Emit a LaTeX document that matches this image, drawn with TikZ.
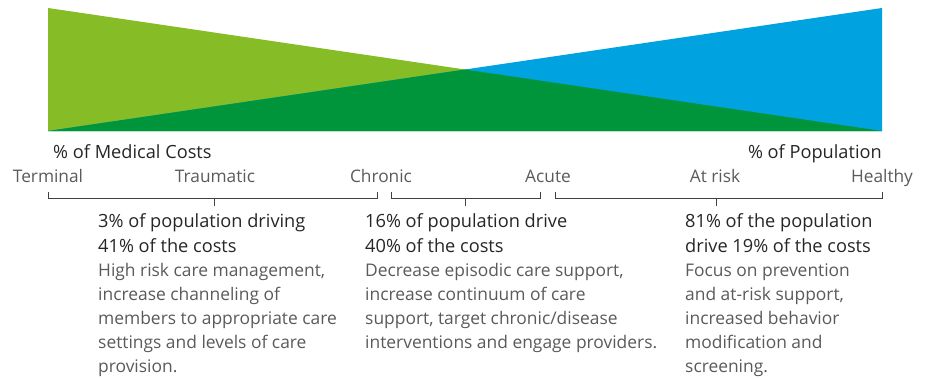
\documentclass[tikz,border=0pt]{standalone}
\usepackage{fontspec}
\setmainfont{Open Sans}
\usetikzlibrary{positioning}
\definecolor{light green}{HTML}{86BC25}
\definecolor{pop blue}{HTML}{00A3E0}
\definecolor{dark green}{HTML}{00953A}
\definecolor{head gray}{HTML}{262626}
\definecolor{text gray}{HTML}{5A5A5A}
\colorlet{bracket gray}{black!75}

\begin{document}
\begin{tikzpicture}[x=1pt,y=-1pt,
		every node/.style={inner sep=0pt,font=\fontsize{17.4}{24.2}\selectfont},
		head/.style={anchor=base west,align=left,text=head gray,font=\fontsize{18.2}{24.2}\selectfont},
		desc/.style={anchor=base west,align=left,text=text gray},
		stage/.style={anchor=base,text=text gray,font=\fontsize{17.3}{24.2}\selectfont},
		bracket/.style={draw=bracket gray,line width=0.9pt}]
			\useasboundingbox (0,0) rectangle (930,378);
			\coordinate (top left) at (48,8);
			\coordinate (top right) at (882,8);
			\coordinate (bottom left) at (48,131);
			\coordinate (bottom right) at (882,131);
			\coordinate (cross) at (465,69.5);
			\fill[light green] (top left) -- (bottom right) -- (bottom left) -- cycle;
			\fill[pop blue] (top right) -- (bottom right) -- (bottom left) -- cycle;
			\fill[dark green] (bottom left) -- (bottom right) -- (cross) -- cycle;
			\node[head,anchor=base west] (costs) at (53,158){\% of Medical Costs};
			\node[head,anchor=base east] (population) at (882,158){\% of Population};
			\foreach \name/\label/\x in {terminal/Terminal/48, traumatic/Traumatic/215, chronic/Chronic/381,
				acute/Acute/548, atrisk/At risk/715, healthy/Healthy/882}
				\node[stage] (\name) at (\x,182){\label};
			\foreach \a/\b/\m in {48/377/214, 391/540/465, 555/882/716}{
				\coordinate (left tip) at (\a,192);
				\coordinate (left corner) at (\a,198);
				\coordinate (right corner) at (\b,198);
				\coordinate (right tip) at (\b,192);
				\coordinate (mid top) at (\m,198);
				\coordinate (mid end) at (\m,206);
				\draw[bracket] (left tip) -- (left corner) -- (right corner) -- (right tip);
				\draw[bracket] (mid top) -- (mid end);
			}
			\node[head] (high head) at (98,252){3\% of population driving\\41\% of the costs};
			\node[desc] (high text) at (98,372.8){High risk care management,\\increase channeling of\\members to appropriate care\\settings and levels of care\\provision.};
			\node[head] (mid head) at (365,252){16\% of population drive\\40\% of the costs};
			\node[desc] (mid text) at (365,348.6){Decrease episodic care support,\\increase continuum of care\\support, target chronic/disease\\interventions and engage providers.};
			\node[head] (low head) at (685,252){81\% of the population\\drive 19\% of the costs};
			\node[desc] (low text) at (685,372.8){Focus on prevention\\and at-risk support,\\increased behavior\\modification and\\screening.};
		\end{tikzpicture}
\end{document}
